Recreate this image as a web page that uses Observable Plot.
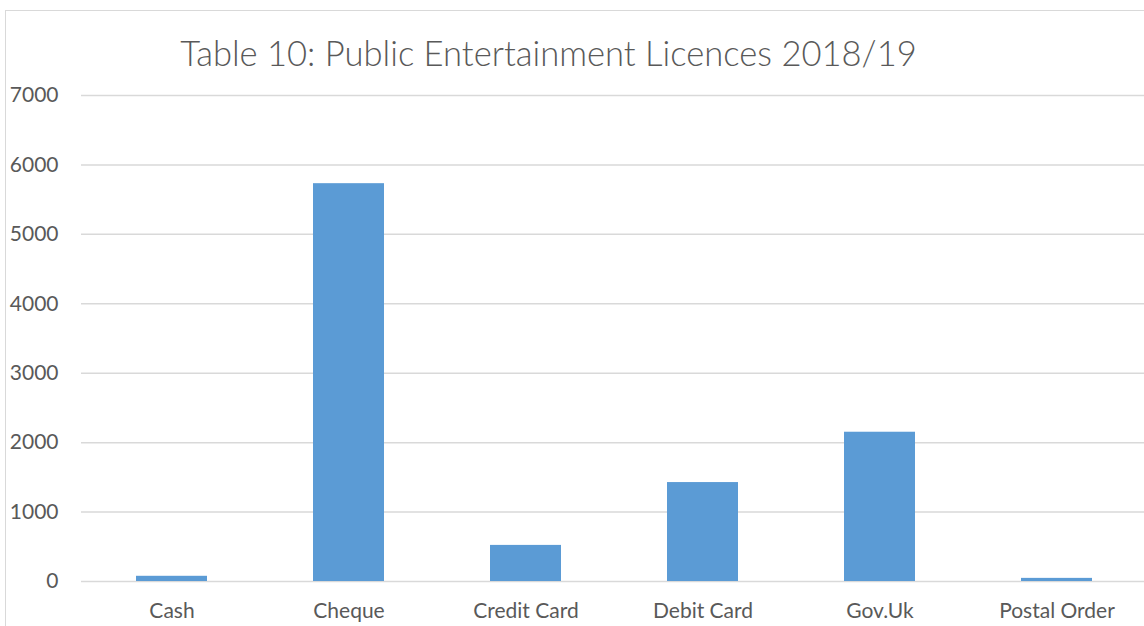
<!DOCTYPE html>
<html>
<head>
<meta charset="utf-8">
<script src="https://cdn.jsdelivr.net/npm/d3@7"></script>
<script src="https://cdn.jsdelivr.net/npm/@observablehq/plot@0.6"></script>
<style>
  html, body { margin: 0; padding: 0; background: #fff; }
  #wrap { position: relative; width: 1144px; height: 626px; overflow: hidden; font-family: Lato, "Open Sans", sans-serif; }
  #frame { position: absolute; left: 5px; top: 10px; width: 1200px; height: 700px; border-left: 1.5px solid #d9d9d9; border-top: 1.5px solid #d9d9d9; }
  #title { position: absolute; left: 0; width: 1097px; top: 33px; text-align: center; font-size: 34.6px; font-weight: 300; color: #595959; line-height: 40px; }
  #chart { position: absolute; left: 0; top: 0; }
</style>
</head>
<body>
<div id="wrap">
  <div id="frame"></div>
  <div id="chart"></div>
  <div id="title">Table 10: Public Entertainment Licences 2018/19</div>
</div>
<script>
const categories = ["Cash", "Cheque", "Credit Card", "Debit Card", "Gov.Uk", "Postal Order"];
const values = [75, 5730, 520, 1425, 2150, 45];
const yTicks = [0, 1000, 2000, 3000, 4000, 5000, 6000, 7000];

const data = categories.map((c, i) => ({category: c, value: values[i]}));

const chart = Plot.plot({
  width: 1144,
  height: 626,
  marginTop: 95,
  marginBottom: 45,
  marginLeft: 81,
  marginRight: -2,
  style: {fontFamily: "Lato, 'Open Sans', sans-serif", fontSize: "21px", color: "#595959", background: "transparent"},
  x: {domain: categories, paddingInner: 0.6, paddingOuter: 0.3, label: null, tickSize: 0, tickPadding: 22},
  y: {domain: [0, 7000], ticks: yTicks, label: null, tickSize: 0, tickPadding: 23, tickFormat: d => String(d)},
  marks: [
    Plot.gridY(yTicks, {stroke: "#d9d9d9", strokeOpacity: 1, strokeWidth: 1.5}),
    Plot.barY(data, {x: "category", y: "value", fill: "#5b9bd5"}),
    Plot.axisX({tickSize: 0, tickPadding: 22, fontSize: 21, fill: "#595959"}),
    Plot.axisY({ticks: yTicks, tickSize: 0, tickPadding: 23, fontSize: 21, fill: "#595959", tickFormat: d => String(d)})
  ]
});
document.getElementById("chart").appendChild(chart);
</script>
</body>
</html>
